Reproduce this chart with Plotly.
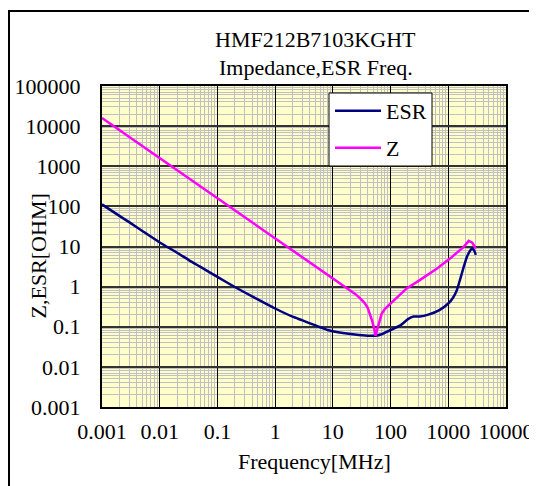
import plotly.graph_objects as go

# ---- data ----
freq_esr = [0.001, 0.002, 0.003, 0.005, 0.01, 0.02, 0.0335, 0.05, 0.1, 0.2, 0.5, 1, 2, 2.9,
            5, 8.4, 15, 24, 40, 55, 70, 100, 150, 200, 250, 320, 450, 700, 1000, 1200,
            1400, 1600, 1850, 2100, 2400, 2600, 2800, 3000]
esr = [112, 58, 40, 24.4, 12.6, 7.0, 4.4, 3.15, 1.75, 0.98, 0.48, 0.285, 0.178, 0.146,
       0.108, 0.082, 0.07, 0.064, 0.06, 0.06, 0.065, 0.083, 0.11, 0.155, 0.18, 0.18, 0.2,
       0.26, 0.38, 0.52, 0.8, 1.5, 3.1, 5.5, 8.0, 8.9, 8.0, 6.2]

freq_z = [0.001, 0.01, 0.1, 1, 6, 10, 15, 20, 25, 30, 35, 40, 44, 48, 52, 55, 58, 61,
          65, 70, 80, 100, 130, 190, 320, 630, 1070, 1850, 2260, 2600, 3000]
z = [15900, 1590, 159, 15.9, 2.6, 1.55, 1.05, 0.8, 0.64, 0.5, 0.4, 0.3, 0.21, 0.14,
     0.09, 0.06, 0.08, 0.1, 0.15, 0.21, 0.28, 0.38, 0.55, 0.9, 1.45, 2.8, 5.0, 9.8, 13.8,
     12.5, 8.9]

x_tickvals = [0.001, 0.01, 0.1, 1, 10, 100, 1000, 10000]
x_ticktext = ["0.001", "0.01", "0.1", "1", "10", "100", "1000", "10000"]
y_tickvals = [0.001, 0.01, 0.1, 1, 10, 100, 1000, 10000, 100000]
y_ticktext = ["0.001", "0.01", "0.1", "1", "10", "100", "1000", "10000", "100000"]

title_lines = ["HMF212B7103KGHT", "Impedance,ESR Freq."]
x_title = "Frequency[MHz]"
y_title = "Z,ESR[OHM]"

FONT = "Liberation Serif, Times New Roman, serif"
TXT = dict(family=FONT, size=22, color="black")

# the page body has an 8px margin, so the figure is shifted by 8px
OFF = 8
# plot-area geometry in reference pixels
L, R, T, B = 102, 506, 86, 407
W, H = R - L, B - T
FIG_W, FIG_H = 537 - OFF, 486 - OFF


def px(xp):
    return (xp - L) / W


def py(yp):
    return (B - yp) / H


fig = go.Figure()
fig.add_trace(go.Scatter(x=freq_esr, y=esr, mode="lines", name="ESR",
                         line=dict(color="#000080", width=2.5, shape="spline", smoothing=0.5),
                         legend="legend"))
fig.add_trace(go.Scatter(x=freq_z, y=z, mode="lines", name="Z",
                         line=dict(color="#FF00FF", width=2.5),
                         legend="legend2"))

axis_common = dict(
    type="log",
    showline=True, mirror=True, linecolor="black", linewidth=2,
    ticks="outside", tickcolor="rgba(0,0,0,0)", tickwidth=1,
    tickfont=TXT, tickmode="array",
    zeroline=False, automargin=False,
)

fig.update_xaxes(**axis_common, range=[-3, 4], tickvals=x_tickvals, ticktext=x_ticktext,
                 ticklen=4,
                 showgrid=True, gridcolor="black", gridwidth=1,
                 minor=dict(dtick="D1", showgrid=True, gridcolor="#c0c0c0", gridwidth=1,
                            ticks=""))
fig.update_yaxes(**axis_common, range=[-3, 5], tickvals=y_tickvals, ticktext=y_ticktext,
                 ticklen=15,
                 showgrid=True, gridcolor="#333333", gridwidth=1.5,
                 minor=dict(dtick="D1", showgrid=True, gridcolor="#c0c0c0", gridwidth=1,
                            ticks=""))

legend_common = dict(xanchor="left", yanchor="middle", bgcolor="rgba(0,0,0,0)",
                     borderwidth=0, font=TXT, itemwidth=46)

fig.update_layout(
    width=FIG_W, height=FIG_H,
    margin=dict(l=L - OFF, r=FIG_W - (R - OFF), t=T - OFF, b=FIG_H - (B - OFF),
                autoexpand=False),
    paper_bgcolor="white", plot_bgcolor="#FFFFCC",
    font=TXT,
    legend=dict(**legend_common, x=px(330), y=py(111)),
    legend2=dict(**legend_common, x=px(330), y=py(148)),
    showlegend=True,
)

# legend box
fig.add_shape(type="rect", xref="paper", yref="paper",
              x0=px(329), x1=px(432), y0=py(166), y1=py(93),
              line=dict(color="black", width=1), fillcolor="white", layer="above")
# outer chart frame (extends past the right/bottom edge as in the reference)
fig.add_shape(type="rect", xref="paper", yref="paper",
              x0=px(9), x1=px(545), y0=py(495), y1=py(11),
              line=dict(color="black", width=2), fillcolor="rgba(0,0,0,0)", layer="below")

# titles
fig.add_annotation(text=title_lines[0], xref="paper", yref="paper", x=px(315.5), y=py(40),
                   xanchor="center", yanchor="middle", showarrow=False, font=TXT)
fig.add_annotation(text=title_lines[1], xref="paper", yref="paper", x=px(315.5), y=py(67),
                   xanchor="center", yanchor="middle", showarrow=False, font=TXT)
fig.add_annotation(text=x_title, xref="paper", yref="paper", x=px(314.4), y=py(461),
                   xanchor="center", yanchor="middle", showarrow=False, font=TXT)
fig.add_annotation(text=y_title, xref="paper", yref="paper", x=px(38), y=py(256.5),
                   xanchor="center", yanchor="middle", showarrow=False, font=TXT,
                   textangle=-90)

fig.write_html("out.html")
